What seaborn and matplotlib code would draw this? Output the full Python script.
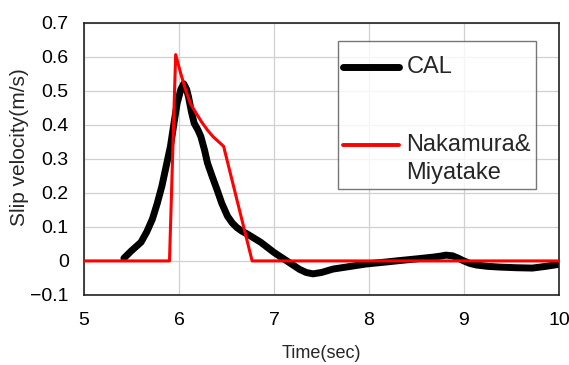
import numpy as np
import pandas as pd
import matplotlib
matplotlib.use("Agg")
import matplotlib.pyplot as plt
from matplotlib.lines import Line2D
import seaborn as sns

# CAL series
cal_t = [5.42, 5.50, 5.60, 5.66, 5.72, 5.77, 5.82, 5.87, 5.91, 5.95, 5.98, 6.02, 6.05,
         6.08, 6.10, 6.13, 6.16, 6.20, 6.23, 6.27, 6.30, 6.35, 6.40, 6.45, 6.51, 6.56, 6.61,
         6.66, 6.72, 6.79, 6.86, 6.93, 7.00, 7.07, 7.13, 7.20, 7.27, 7.34, 7.41, 7.50, 7.62,
         7.76, 7.97, 8.15, 8.32, 8.50, 8.67, 8.75, 8.81, 8.88, 8.94, 8.99, 9.06, 9.13, 9.25,
         9.37, 9.55, 9.72, 9.86, 10.00]
cal_v = [0.008, 0.030, 0.055, 0.085, 0.123, 0.168, 0.220, 0.285, 0.337, 0.410, 0.463, 0.505, 0.521,
         0.505, 0.483, 0.440, 0.405, 0.385, 0.366, 0.325, 0.288, 0.248, 0.210, 0.170, 0.132, 0.112, 0.098,
         0.088, 0.079, 0.067, 0.055, 0.040, 0.025, 0.012, 0.001, -0.012, -0.025, -0.034, -0.038, -0.034, -0.024,
         -0.018, -0.009, -0.004, 0.001, 0.006, 0.011, 0.014, 0.017, 0.015, 0.008, 0.001, -0.007, -0.012, -0.016,
         -0.018, -0.020, -0.021, -0.016, -0.010]

# Nakamura & Miyatake series
nm_t = [5.00, 5.90, 5.965, 6.02, 6.07, 6.12, 6.18, 6.24, 6.30, 6.36, 6.42, 6.47, 6.77, 10.00]
nm_v = [0.000, 0.000, 0.607, 0.550, 0.503, 0.463, 0.435, 0.408, 0.385, 0.365, 0.350, 0.337, 0.000, 0.000]

series = ["CAL", "Nakamura&Miyatake"]
xticks = [5, 6, 7, 8, 9, 10]
yticks = [-0.1, 0, 0.1, 0.2, 0.3, 0.4, 0.5, 0.6, 0.7]
ytick_labels = ["\u22120.1", "0", "0.1", "0.2", "0.3", "0.4", "0.5", "0.6", "0.7"]

df = pd.concat([
    pd.DataFrame({"t": cal_t, "v": cal_v, "s": series[0]}),
    pd.DataFrame({"t": nm_t, "v": nm_v, "s": series[1]}),
], ignore_index=True)

sns.set_theme(style="white")
plt.rcParams['font.family'] = ['Liberation Sans', 'DejaVu Sans']

fig = plt.figure(figsize=(5.69, 3.65), dpi=100)
ax = fig.add_axes([0.1476, 0.192, 0.8348, 0.745])

sns.lineplot(data=df, x="t", y="v", hue="s", palette={series[0]: "black", series[1]: "#ff0000"},
             ax=ax, sort=False, estimator=None, legend=False)
lines = ax.get_lines()
lines[0].set_linewidth(5.0)
lines[0].set_solid_capstyle("round")
lines[0].set_solid_joinstyle("round")
lines[0].set_zorder(2)
lines[1].set_linewidth(2.2)
lines[1].set_zorder(3)

ax.set_xlim(5, 10)
ax.set_ylim(-0.1, 0.7)
ax.set_xticks(xticks)
ax.set_yticks(yticks)
ax.set_yticklabels(ytick_labels)
ax.grid(True, color="#d0d0d0", linewidth=0.9)
ax.set_axisbelow(True)
for sp in ax.spines.values():
    sp.set_color("#222222")
    sp.set_linewidth(1.2)
ax.tick_params(axis="both", labelsize=14, length=0, colors="black")
ax.tick_params(axis="y", pad=11)
ax.tick_params(axis="x", pad=12)
ax.set_xlabel("Time(sec)", fontsize=13)
ax.set_ylabel("Slip velocity(m/s)", fontsize=15)
ax.yaxis.set_label_coords(-0.116, 0.544)
ax.xaxis.set_label_coords(0.5, -0.185)

blank = Line2D([], [], color="none")
h_cal = Line2D([], [], color="black", linewidth=5.0, solid_capstyle="round")
h_nm = Line2D([], [], color="#ff0000", linewidth=2.8, solid_capstyle="round")
leg = ax.legend(handles=[h_cal, blank, h_nm, blank],
                labels=["CAL", " ", "Nakamura&", "Miyatake"], loc="upper left",
                bbox_to_anchor=(0.535, 0.935), fontsize=17, frameon=True, fancybox=False,
                edgecolor="#555555", handlelength=2.4, handleheight=0.05, handletextpad=0.3,
                labelspacing=0.25, borderpad=0.2, borderaxespad=0,
                title=" ", title_fontsize=3.5)
leg.get_frame().set_linewidth(1.0)
leg.get_texts()[1].set_fontsize(34)

fig.savefig("out.png", dpi=100)
